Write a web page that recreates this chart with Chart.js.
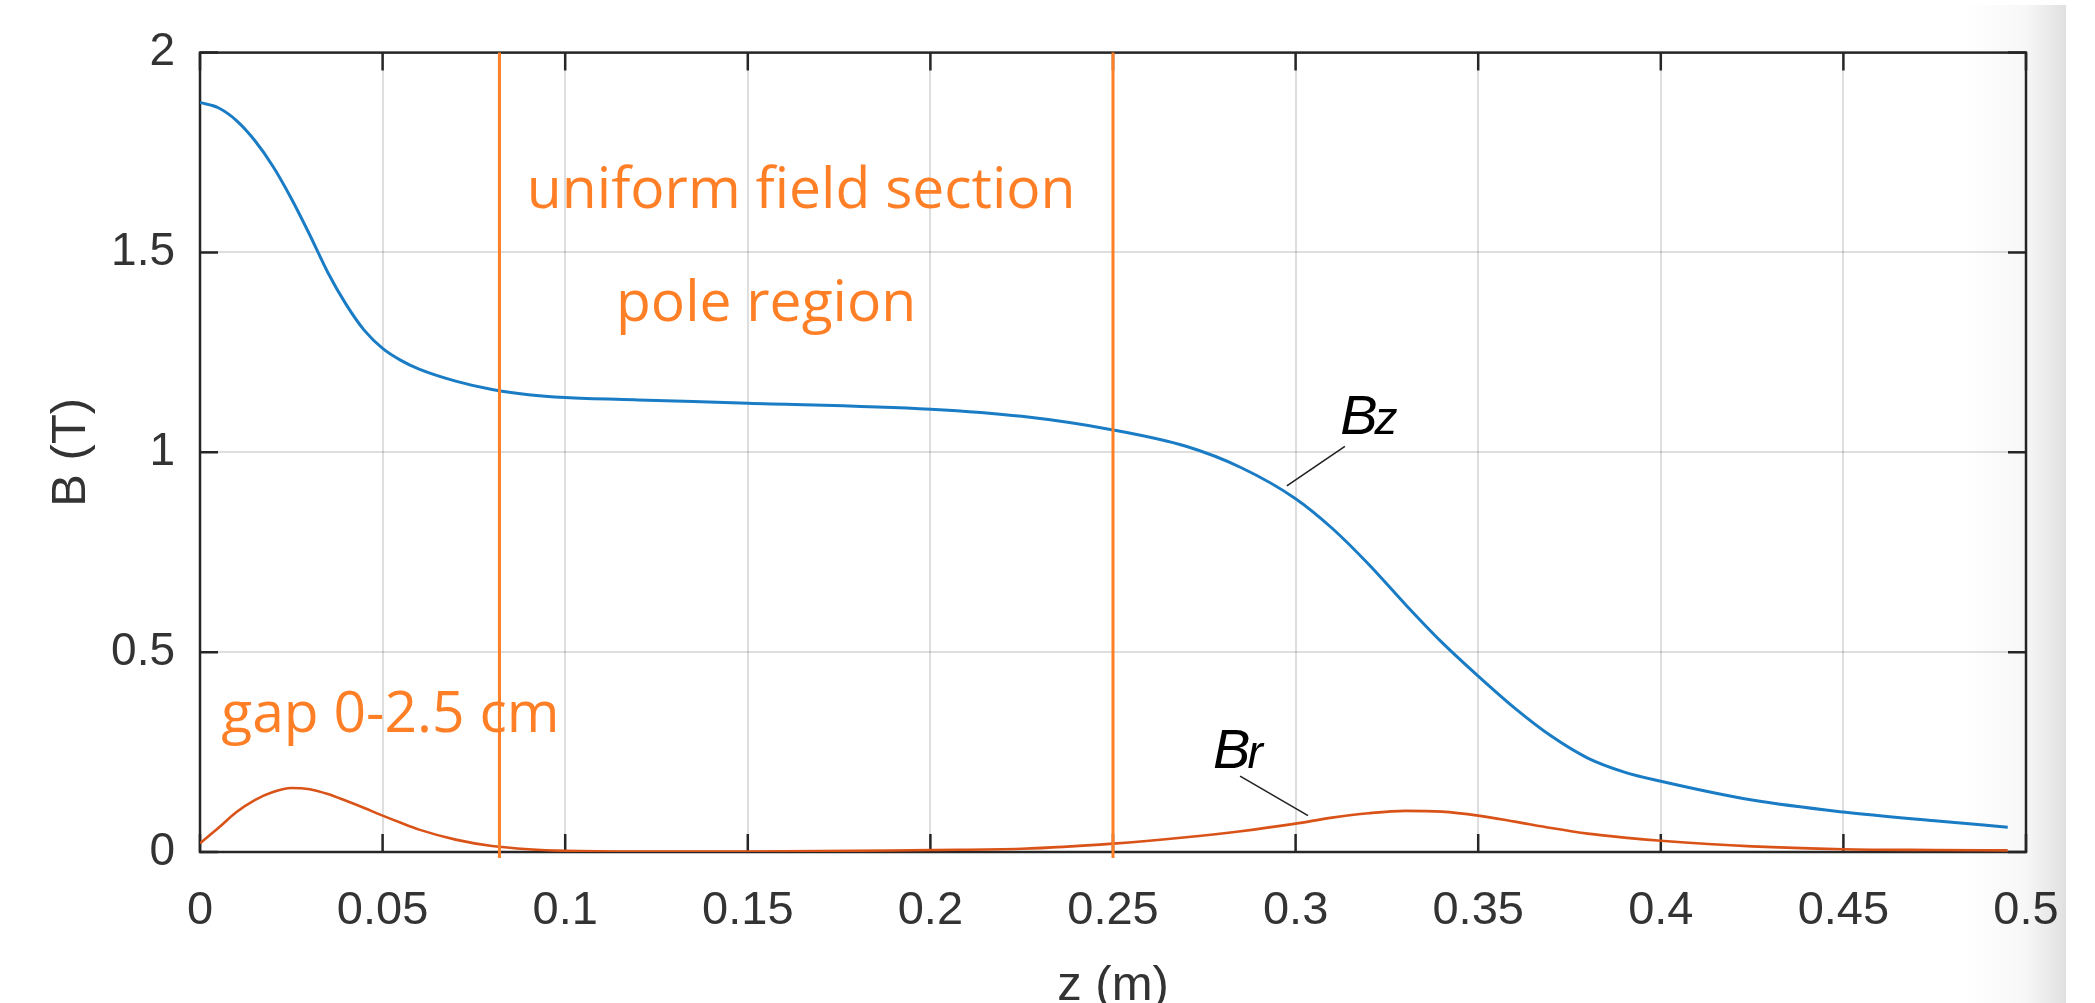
<!DOCTYPE html>
<html>
<head>
<meta charset="utf-8">
<script src="https://cdn.jsdelivr.net/npm/chart.js@4.4.1/dist/chart.umd.min.js"></script>
<style>
  html, body { margin: 0; padding: 0; background: #ffffff; overflow: hidden; }
  #wrap { width: 2095px; height: 1003px; position: relative; }
</style>
</head>
<body>
<div id="wrap"><canvas id="c" width="2095" height="1003"></canvas></div>
<script>
// ---- data ----
const zValues  = [0, 0.005, 0.01, 0.015, 0.02, 0.025, 0.03, 0.035, 0.04, 0.045, 0.05, 0.055, 0.06, 0.07, 0.08, 0.09, 0.1, 0.12, 0.15, 0.2, 0.225, 0.25, 0.27, 0.285, 0.3, 0.31, 0.32, 0.33, 0.34, 0.35, 0.36, 0.37, 0.38, 0.39, 0.4, 0.425, 0.45, 0.475, 0.495];
const bzValues = [1.875, 1.862, 1.83, 1.78, 1.715, 1.635, 1.545, 1.45, 1.37, 1.305, 1.26, 1.23, 1.208, 1.178, 1.157, 1.144, 1.137, 1.131, 1.123, 1.108, 1.09, 1.056, 1.015, 0.962, 0.884, 0.81, 0.72, 0.62, 0.525, 0.44, 0.36, 0.29, 0.235, 0.2, 0.177, 0.13, 0.10, 0.078, 0.062];
const brValues = [0.022, 0.06, 0.10, 0.13, 0.15, 0.16, 0.157, 0.145, 0.128, 0.11, 0.091, 0.073, 0.056, 0.031, 0.015, 0.007, 0.003, 0.001, 0.001, 0.005, 0.008, 0.021, 0.037, 0.052, 0.071, 0.086, 0.097, 0.103, 0.101, 0.091, 0.076, 0.06, 0.046, 0.036, 0.028, 0.014, 0.007, 0.005, 0.004];

const xTickValues = [0, 0.05, 0.1, 0.15, 0.2, 0.25, 0.3, 0.35, 0.4, 0.45, 0.5];
const xTickLabels = ['0', '0.05', '0.1', '0.15', '0.2', '0.25', '0.3', '0.35', '0.4', '0.45', '0.5'];
const yTickValues = [0, 0.5, 1, 1.5, 2];
const yTickLabels = ['0', '0.5', '1', '1.5', '2'];

const seriesNames = ['Bz', 'Br'];
const sectionBounds = [0.082, 0.25];   // z of the two vertical section lines

const xTitle = 'z (m)';
const yTitle = 'B (T)';

// annotation texts (anchored in data units: left / baseline)
const regionNotes = [
  { text: 'uniform field section', z: 0.0895, b: 1.611 },
  { text: 'pole region',           z: 0.1139, b: 1.3276 },
  { text: 'gap 0-2.5 cm',          z: 0.0058, b: 0.3005 }
];
const curveNotes = [
  { main: 'B', sub: 'z', z: 0.3122, b: 1.047, from: [0.3135, 1.015], to: [0.2976, 0.916] },
  { main: 'B', sub: 'r', z: 0.2774, b: 0.2094, from: [0.2848, 0.1897], to: [0.3034, 0.0911] }
];

// ---- styles ----
const BLUE = '#1a7cc4';
const RED = '#D95319';
const ORANGE = '#FF7F27';
const AXIS = '#262626';
const TICKFONT = 'Liberation Sans, Arial, sans-serif';

const framePlugin = {
  id: 'matlabFrame',
  beforeDatasetsDraw(chart) {
    const { ctx, chartArea: a, scales: { x, y } } = chart;
    ctx.save();
    ctx.strokeStyle = AXIS;
    ctx.lineWidth = 2.5;
    ctx.strokeRect(a.left, a.top, a.right - a.left, a.bottom - a.top);
    const tl = 18;
    ctx.beginPath();
    xTickValues.forEach(v => {
      const px = x.getPixelForValue(v);
      ctx.moveTo(px, a.bottom); ctx.lineTo(px, a.bottom - tl);
      ctx.moveTo(px, a.top); ctx.lineTo(px, a.top + tl);
    });
    yTickValues.forEach(v => {
      const py = y.getPixelForValue(v);
      ctx.moveTo(a.left, py); ctx.lineTo(a.left + tl, py);
      ctx.moveTo(a.right, py); ctx.lineTo(a.right - tl, py);
    });
    ctx.stroke();
    ctx.restore();
  },
  afterDatasetsDraw(chart) {
    const { ctx, chartArea: a, scales: { x, y } } = chart;
    ctx.save();
    // section lines
    ctx.strokeStyle = ORANGE;
    ctx.lineWidth = 3;
    sectionBounds.forEach(v => {
      const px = x.getPixelForValue(v);
      ctx.beginPath();
      ctx.moveTo(px, a.top);
      ctx.lineTo(px, a.bottom + 6);
      ctx.stroke();
    });
    // region notes
    ctx.fillStyle = ORANGE;
    ctx.font = '57px "Open Sans", sans-serif';
    ctx.textBaseline = 'alphabetic';
    ctx.textAlign = 'left';
    regionNotes.forEach(n => {
      ctx.fillText(n.text, x.getPixelForValue(n.z), y.getPixelForValue(n.b));
    });
    // curve labels + leader lines
    ctx.fillStyle = '#000';
    ctx.strokeStyle = '#222';
    ctx.lineWidth = 1.6;
    curveNotes.forEach(n => {
      const px = x.getPixelForValue(n.z), py = y.getPixelForValue(n.b);
      ctx.font = 'italic 56px ' + TICKFONT;
      ctx.fillText(n.main, px, py);
      const w = ctx.measureText(n.main).width;
      ctx.font = 'italic 46px ' + TICKFONT;
      ctx.fillText(n.sub, px + w - 3, py);
      ctx.beginPath();
      ctx.moveTo(x.getPixelForValue(n.from[0]), y.getPixelForValue(n.from[1]));
      ctx.lineTo(x.getPixelForValue(n.to[0]), y.getPixelForValue(n.to[1]));
      ctx.stroke();
    });
    ctx.restore();
  },
  afterDraw(chart) {
    // screenshot edge shadow on the right
    const ctx = chart.ctx;
    ctx.save();
    const g = ctx.createLinearGradient(1965, 0, 2066, 0);
    g.addColorStop(0, 'rgba(0,0,0,0)');
    g.addColorStop(0.6, 'rgba(0,0,0,0.03)');
    g.addColorStop(1, 'rgba(0,0,0,0.12)');
    ctx.fillStyle = g;
    ctx.fillRect(1965, 5, 101, 998);
    ctx.restore();
  }
};

const toPoints = vals => zValues.map((z, i) => ({ x: z, y: vals[i] }));

new Chart(document.getElementById('c'), {
  type: 'line',
  data: {
    datasets: [
      { label: seriesNames[0], data: toPoints(bzValues), borderColor: BLUE, borderWidth: 3, pointRadius: 0, cubicInterpolationMode: 'monotone', fill: false },
      { label: seriesNames[1], data: toPoints(brValues), borderColor: RED, borderWidth: 2.6, pointRadius: 0, cubicInterpolationMode: 'monotone', fill: false }
    ]
  },
  options: {
    responsive: false,
    animation: false,
    devicePixelRatio: 1,
    layout: { padding: { left: 0, top: 40, right: 69, bottom: 0 } },
    plugins: { legend: { display: false }, tooltip: { enabled: false } },
    scales: {
      x: {
        type: 'linear', min: 0, max: 0.5,
        afterBuildTicks: s => { s.ticks = xTickValues.map(v => ({ value: v })); },
        afterFit: s => { s.height = 151; },
        grid: { color: 'rgba(0,0,0,0.13)', lineWidth: 2, drawTicks: false },
        border: { display: false },
        ticks: {
          callback: (v, i) => xTickLabels[i],
          color: '#333', padding: 31, maxRotation: 0, autoSkip: false,
          font: { family: TICKFONT, size: 47 }
        },
        title: { display: true, text: xTitle, color: '#333', font: { family: TICKFONT, size: 49, lineHeight: 1 }, padding: { top: 0, bottom: -8 } }
      },
      y: {
        type: 'linear', min: 0, max: 2,
        afterBuildTicks: s => { s.ticks = yTickValues.map(v => ({ value: v })); },
        afterFit: s => { s.width = 200; },
        grid: { color: 'rgba(0,0,0,0.13)', lineWidth: 2, drawTicks: false },
        border: { display: false },
        ticks: {
          callback: (v, i) => yTickLabels[i],
          color: '#333', padding: 25,
          font: { family: TICKFONT, size: 46 }
        },
        title: { display: true, text: yTitle, color: '#333', font: { family: TICKFONT, size: 49, lineHeight: 1 }, padding: { top: 47, bottom: 0 } }
      }
    }
  },
  plugins: [framePlugin]
});
</script>
</body>
</html>
